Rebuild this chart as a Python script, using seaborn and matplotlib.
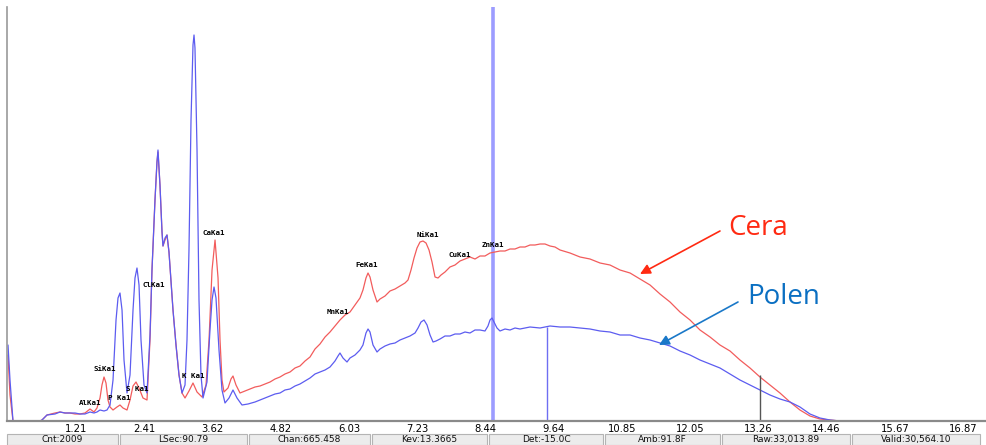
import matplotlib
matplotlib.use("Agg")
import matplotlib.pyplot as plt
from matplotlib.patches import Rectangle
import pandas as pd
import seaborn as sns

# ---- spectrum data (energy in keV, counts) ----
cera_kev = [0.009, 0.044, 0.097, 0.574, 0.609, 0.697, 0.839, 0.927, 1.015, 1.103,
            1.192, 1.280, 1.368, 1.457, 1.527, 1.580, 1.633, 1.668, 1.704, 1.739,
            1.774, 1.810, 1.863, 1.933, 1.986, 2.039, 2.110, 2.163, 2.216, 2.269,
            2.322, 2.392, 2.463, 2.516, 2.551, 2.604, 2.639, 2.657, 2.692, 2.728,
            2.745, 2.781, 2.816, 2.851, 2.887, 2.922, 2.975, 3.028, 3.081, 3.134,
            3.204, 3.275, 3.346, 3.434, 3.505, 3.558, 3.611, 3.664, 3.717, 3.752,
            3.787, 3.822, 3.893, 3.946, 3.981, 4.034, 4.105, 4.193,
            4.281, 4.370, 4.458, 4.546, 4.635, 4.723, 4.811, 4.899, 4.988, 5.076,
            5.164, 5.253, 5.341, 5.429, 5.517, 5.606, 5.694, 5.782, 5.870, 5.959,
            6.047, 6.135, 6.223, 6.276, 6.329, 6.365, 6.400, 6.453, 6.524, 6.577,
            6.665, 6.753, 6.842, 6.930, 7.018, 7.071, 7.124, 7.177, 7.230, 7.283,
            7.336, 7.389, 7.442, 7.495, 7.548, 7.601, 7.654, 7.724, 7.812, 7.901,
            7.989, 8.077, 8.165, 8.254, 8.342, 8.430, 8.519, 8.607, 8.695, 8.784,
            8.872, 8.960, 9.048, 9.137, 9.225, 9.313, 9.402, 9.490, 9.578, 9.666,
            9.755, 9.931, 10.108, 10.284, 10.461, 10.637, 10.814, 10.991, 11.167, 11.344,
            11.520, 11.697, 11.873, 12.050, 12.226, 12.403, 12.579, 12.756, 12.932, 13.109,
            13.285, 13.462, 13.638, 13.815, 13.991, 14.168, 14.344, 14.521, 14.697, 17.258]
cera_counts = [66, 26, 0, 0, 1, 6, 8, 9, 8, 8,
               7, 7, 8, 12, 9, 13, 23, 36, 44, 38,
               21, 14, 11, 14, 16, 13, 11, 21, 35, 39,
               33, 23, 21, 81, 151, 221, 259, 269, 236, 189,
               175, 181, 186, 169, 139, 111, 76, 46, 28, 23,
               30, 38, 29, 24, 36, 81, 151, 181, 143, 81,
               41, 29, 33, 42, 45, 36, 28, 30,
               32, 34, 35, 37, 39, 42, 44, 47, 49, 53,
               55, 60, 64, 72, 77, 84, 89, 95, 101, 106,
               109, 116, 123, 131, 143, 148, 144, 131, 119, 122,
               125, 130, 132, 135, 138, 141, 151, 163, 173, 179,
               180, 178, 171, 159, 144, 143, 146, 149, 154, 156,
               160, 162, 164, 162, 165, 165, 168, 169, 170, 170,
               172, 172, 174, 174, 176, 176, 177, 177, 175, 174,
               171, 168, 164, 162, 158, 156, 151, 148, 142, 136,
               127, 119, 109, 101, 91, 84, 76, 70, 61, 53,
               44, 36, 28, 19, 11, 5, 2, 1, 0, 0]

polen_kev = [0.009, 0.044, 0.097, 0.574, 0.609, 0.697, 0.839, 0.927, 1.015, 1.103,
             1.192, 1.280, 1.368, 1.457, 1.527, 1.580, 1.633, 1.704, 1.757, 1.810,
             1.863, 1.916, 1.951, 1.986, 2.022, 2.057, 2.110, 2.163, 2.216, 2.251,
             2.286, 2.322, 2.357, 2.410, 2.463, 2.516, 2.551, 2.604, 2.639, 2.657,
             2.692, 2.728, 2.745, 2.781, 2.816, 2.851, 2.887, 2.922, 2.975, 3.028,
             3.081, 3.134, 3.169, 3.204, 3.240, 3.275, 3.293, 3.310, 3.346, 3.381,
             3.416, 3.452, 3.522, 3.575, 3.611, 3.646, 3.681, 3.734, 3.787, 3.840,
             3.911, 3.981, 4.052, 4.140, 4.246,
             4.370, 4.458, 4.546, 4.635, 4.723, 4.811, 4.899, 4.988, 5.076, 5.164,
             5.253, 5.341, 5.429, 5.517, 5.606, 5.694, 5.782, 5.835, 5.870, 5.923,
             5.994, 6.047, 6.135, 6.223, 6.276, 6.329, 6.365, 6.400, 6.453, 6.524,
             6.577, 6.665, 6.753, 6.842, 6.930, 7.018, 7.106, 7.195, 7.248, 7.301,
             7.354, 7.407, 7.460, 7.513, 7.566, 7.636, 7.724, 7.812, 7.901, 7.989,
             8.077, 8.165, 8.254, 8.342, 8.430, 8.483, 8.519, 8.554, 8.589, 8.642,
             8.695, 8.784, 8.872, 8.960, 9.048, 9.225, 9.402, 9.578, 9.755, 9.931,
             10.108, 10.284, 10.461, 10.637, 10.814, 10.991, 11.167, 11.344, 11.520, 11.697,
             11.873, 12.050, 12.226, 12.403, 12.579, 12.756, 12.932, 13.109, 13.285, 13.462,
             13.638, 13.815, 13.991, 14.168, 14.344, 14.521, 14.697, 17.258]
polen_counts = [76, 41, 0, 0, 1, 6, 7, 9, 8, 8,
                8, 7, 7, 9, 8, 9, 11, 10, 11, 16,
                41, 101, 123, 128, 111, 61, 28, 46, 111, 143,
                153, 136, 81, 36, 28, 86, 151, 221, 259, 271,
                236, 189, 175, 183, 186, 169, 139, 111, 76, 46,
                28, 36, 81, 171, 301, 376, 386, 373, 271, 121,
                46, 23, 39, 91, 121, 134, 123, 71, 31, 18,
                23, 31, 23, 16, 17,
                19, 21, 23, 25, 27, 28, 31, 32, 35, 37,
                40, 43, 47, 49, 51, 54, 60, 65, 68, 63,
                59, 63, 66, 71, 76, 88, 92, 89, 76, 69,
                72, 75, 77, 78, 81, 83, 85, 88, 93, 99,
                101, 96, 86, 79, 80, 82, 85, 85, 87, 87,
                89, 88, 91, 91, 90, 95, 101, 103, 99, 93,
                90, 92, 91, 93, 92, 94, 93, 95, 94, 94,
                93, 92, 90, 89, 86, 86, 83, 81, 78, 75,
                70, 66, 61, 57, 53, 47, 41, 36, 31, 26,
                22, 19, 14, 7, 3, 1, 0, 0]

# ---- peak identification labels ----
peak_names = ["AlKa1", "SiKa1", "P Ka1", "S Ka1", "ClKa1", "K Ka1", "CaKa1",
              "MnKa1", "FeKa1", "NiKa1", "CuKa1", "ZnKa1"]
peak_kev = [1.457, 1.721, 1.977, 2.286, 2.587, 3.275, 3.646,
            5.836, 6.347, 7.415, 7.989, 8.572]
peak_counts = [18, 52, 23, 32, 136, 45, 188, 109, 156, 186, 166, 176]

# ---- markers ----
spike_kev = 8.572
cursor_kev = [9.525, 13.285]
cursor_counts = [94, 46]

# ---- axis ticks ----
tick_kev = [1.21, 2.41, 3.62, 4.82, 6.03, 7.23, 8.44, 9.64, 10.85, 12.05,
            13.26, 14.46, 15.67, 16.87]
tick_labels = ["1.21", "2.41", "3.62", "4.82", "6.03", "7.23", "8.44", "9.64",
               "10.85", "12.05", "13.26", "14.46", "15.67", "16.87"]
minor_kev = [0.60, 1.81, 3.01, 4.22, 5.42, 6.63, 7.83, 9.04, 10.24, 11.45,
             12.65, 13.86, 15.06, 16.27]

# ---- acquisition status fields ----
status_fields = ["Cnt:2009", "LSec:90.79", "Chan:665.458", "Kev:13.3665",
                 "Det:-15.0C", "Amb:91.8F", "Raw:33,013.89", "Valid:30,564.10"]

spectra = pd.concat([
    pd.DataFrame({"keV": cera_kev, "counts": cera_counts, "sample": "Cera"}),
    pd.DataFrame({"keV": polen_kev, "counts": polen_counts, "sample": "Polen"}),
], ignore_index=True)

sns.set_style("white")
plt.rcParams["font.family"] = ["DejaVu Sans"]

W, H = 987, 445
fig = plt.figure(figsize=(W / 100, H / 100), dpi=100)
ax = fig.add_axes([7.5 / W, 24 / H, 977.5 / W, 414 / H])

# tall channel spike and cursor markers
ax.axvline(spike_kev, color="#9c9cff", lw=2.6, zorder=1)

sns.lineplot(data=spectra, x="keV", y="counts", hue="sample",
             palette={"Cera": "#f25c5c", "Polen": "#5c5cf0"},
             estimator=None, sort=False, legend=False, lw=0.9, ax=ax, zorder=2)

ax.vlines(cursor_kev, 0, cursor_counts, colors=["#6e6ef2", "#555555"], lw=1.0, zorder=3)

for name, e, c in zip(peak_names, peak_kev, peak_counts):
    ax.text(e, c, name, ha="center", va="center", fontsize=5.4,
            fontweight="bold", family="DejaVu Sans Mono", color="black", zorder=4)

# sample callouts
ax.annotate("", xy=(11.167, 147), xytext=(12.579, 190),
            arrowprops=dict(arrowstyle="-|>,head_length=0.6,head_width=0.3",
                            color="#ff2a12", lw=1.2, shrinkA=0, shrinkB=0))
ax.text(12.72, 186, "Cera", color="#ff2a12", fontsize=20, family="Open Sans",
        ha="left", va="baseline")
ax.annotate("", xy=(11.502, 76), xytext=(12.897, 119),
            arrowprops=dict(arrowstyle="-|>,head_length=0.6,head_width=0.3",
                            color="#1a78c8", lw=1.2, shrinkA=0, shrinkB=0))
ax.text(13.056, 117, "Polen", color="#0a6fc2", fontsize=20, family="Open Sans",
        ha="left", va="baseline")

ax.set_xlim(0, 17.258)
ax.set_ylim(0, 414)
ax.set_xlabel("")
ax.set_ylabel("")
ax.set_yticks([])
ax.set_xticks(tick_kev)
ax.set_xticklabels(tick_labels)
ax.set_xticks(minor_kev, minor=True)
ax.tick_params(axis="x", which="major", length=0, pad=2.5, labelsize=7.2, labelcolor="black")
ax.tick_params(axis="x", which="minor", length=3, width=0.8, color="#808080", direction="out")
for side in ("top", "right"):
    ax.spines[side].set_visible(False)
ax.spines["left"].set_color("#9a9a9a")
ax.spines["left"].set_linewidth(1.2)
ax.spines["bottom"].set_color("#8a8a8a")
ax.spines["bottom"].set_linewidth(1.6)
ax.spines["bottom"].set_zorder(6)

# status bar
box_edges = [(7, 118), (120, 247), (249, 370), (372, 487),
             (489, 603), (605, 720), (722, 850), (852, 980)]
for (x0, x1), field in zip(box_edges, status_fields):
    fig.add_artist(Rectangle((x0 / W, 0), (x1 - x0) / W, 11 / H, transform=fig.transFigure,
                             facecolor="#ececec", edgecolor="#b4b4b4", lw=0.8))
    fig.text((x0 + x1) / 2 / W, 5.5 / H, field, ha="center", va="center",
             fontsize=6.5, color="#111111")

fig.savefig("out.png", dpi=100)
